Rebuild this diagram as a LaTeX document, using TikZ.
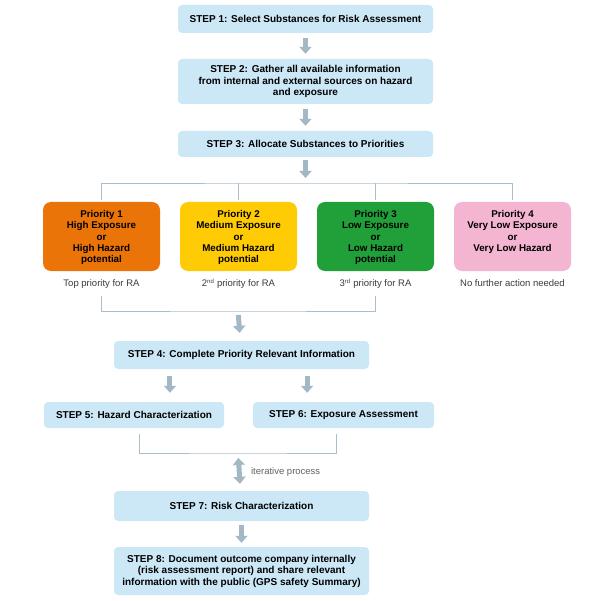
\documentclass[tikz,border=0pt]{standalone}
\usepackage{fontspec}
\setmainfont{Liberation Sans}
\usetikzlibrary{arrows.meta,
                calc,
                positioning}
\definecolor{stepblue}{HTML}{CCE8F6}
\definecolor{arrowgray}{HTML}{A2B8C5}
\definecolor{linegray}{HTML}{A9BFCC}
\definecolor{prioorange}{HTML}{EB7409}
\definecolor{prioyellow}{HTML}{FFCB05}
\definecolor{priogreen}{HTML}{21A03A}
\definecolor{priopink}{HTML}{F3B5D1}
\definecolor{notegray}{HTML}{3A3A3A}
\tikzset{
        stepbox/.style={fill=stepblue, rounded corners=4pt, align=center,
                        font=\fontsize{10}{11.5}\selectfont\bfseries,
                        minimum width=255pt, inner sep=0pt},
        prio/.style={rounded corners=8pt, align=center, text depth=0pt,
                     text=black, font=\fontsize{9.8}{11.2}\selectfont\bfseries,
                     minimum width=117pt, minimum height=69pt, inner sep=0pt},
        note/.style={font=\fontsize{9.5}{11}\selectfont, text=notegray,
                     text height=7pt, text depth=2pt},
        blockarrow/.style={-{Triangle[width=12pt,length=7pt]}, line width=5pt,
                           arrowgray, shorten <=5pt, shorten >=5pt},
        link/.style={draw=linegray, line width=0.9pt},
 }

\begin{document}
\begin{tikzpicture}[x=1pt, y=1pt]
    \useasboundingbox (0,0) rectangle (597,-601);
    % main steps
    \node[stepbox, minimum height=28pt] (s1) at (305.5,-19)
        {STEP 1: Select Substances for Risk Assessment};
    \node[stepbox, minimum height=45pt] (s2) at (305.5,-81.5)
        {STEP 2: Gather all available information\\
         from internal and external sources on hazard\\
         and exposure};
    \node[stepbox, minimum height=26pt] (s3) at (305.5,-144)
        {STEP 3: Allocate Substances to Priorities};

    % priorities
    \node[prio, fill=prioorange] (p1) at (101.5,-236.5)
        {Priority 1\\High Exposure\\or\\High Hazard\\potential};
    \node[prio, fill=prioyellow] (p2) at (238.5,-236.5)
        {Priority 2\\Medium Exposure\\or\\Medium Hazard\\potential};
    \node[prio, fill=priogreen] (p3) at (375.5,-236.5)
        {Priority 3\\Low Exposure\\or\\Low Hazard\\potential};
    \node[prio, fill=priopink] (p4) at (512.5,-236.5)
        {Priority 4\\Very Low Exposure\\or\\Very Low Hazard\\~};

    \node[note, below=5pt of p1] (l1) {Top priority for RA};
    \node[note, below=5pt of p2] (l2) {2{\footnotesize\textsuperscript{nd}} priority for RA};
    \node[note, below=5pt of p3] (l3) {3{\footnotesize\textsuperscript{rd}} priority for RA};
    \node[note, below=5pt of p4] (l4) {No further action needed};

    \node[stepbox, minimum height=28pt] (s4) at (241.5,-355)
        {STEP 4: Complete Priority Relevant Information};
    \node[stepbox, minimum width=180pt, minimum height=26pt] (s5) at (134,-415)
        {STEP 5: Hazard Characterization};
    \node[stepbox, minimum width=181pt, minimum height=26pt] (s6) at (343.5,-415)
        {STEP 6: Exposure Assessment};
    \node[stepbox, minimum height=30pt] (s7) at (241.5,-506)
        {STEP 7: Risk Characterization};
    \node[stepbox, minimum height=48pt] (s8) at (241.5,-571)
        {STEP 8: Document outcome company internally\\
         (risk assessment report) and share relevant\\
         information with the public (GPS safety Summary)};

    % branching lines
    \coordinate (split) at (305.5,-183);
    \coordinate (join) at (238,-311);
    \coordinate (iter) at (238,-453);
    \draw[link, shorten <=2pt, shorten >=2pt] (p1.north) |- (split) -| (p4.north);
    \draw[link, shorten <=2pt] (p2.north) -- (p2.north |- split);
    \draw[link, shorten <=2pt] (p3.north) -- (p3.north |- split);
    \draw[link, shorten <=4pt, shorten >=4pt] (l1.south) |- (join) -| (l3.south);
    \draw[link, shorten <=6pt, shorten >=6pt]
        ([xshift=5pt]s5.south) |- (iter) -| ([xshift=-7.5pt]s6.south);

    % arrows
    \path ($(s4.south west)!.22!(s4.south east)$) coordinate (a5)
          ($(s4.south west)!.757!(s4.south east)$) coordinate (a6);
    \draw[blockarrow] (s1) -- (s2);
    \draw[blockarrow] (s2) -- (s3);
    \draw[blockarrow, shorten <=3pt] (s3) -- (split);
    \draw[blockarrow, shorten <=4pt, shorten >=8pt] (join) -- (s4);
    \draw[blockarrow, shorten <=7pt, shorten >=9pt] (a5) -- (a5 |- s5.north);
    \draw[blockarrow, shorten <=7pt, shorten >=9pt] (a6) -- (a6 |- s6.north);
    \draw[blockarrow, {Triangle[width=12pt,length=7pt]}-{Triangle[width=12pt,length=7pt]},
          shorten >=7pt] (iter) -- (s7)
        node[note, text=notegray!80, midway, right=6pt] (itlabel) {iterative process};
    \draw[blockarrow, shorten <=4pt, shorten >=4pt] (s7) -- (s8);
\end{tikzpicture}
\end{document}
